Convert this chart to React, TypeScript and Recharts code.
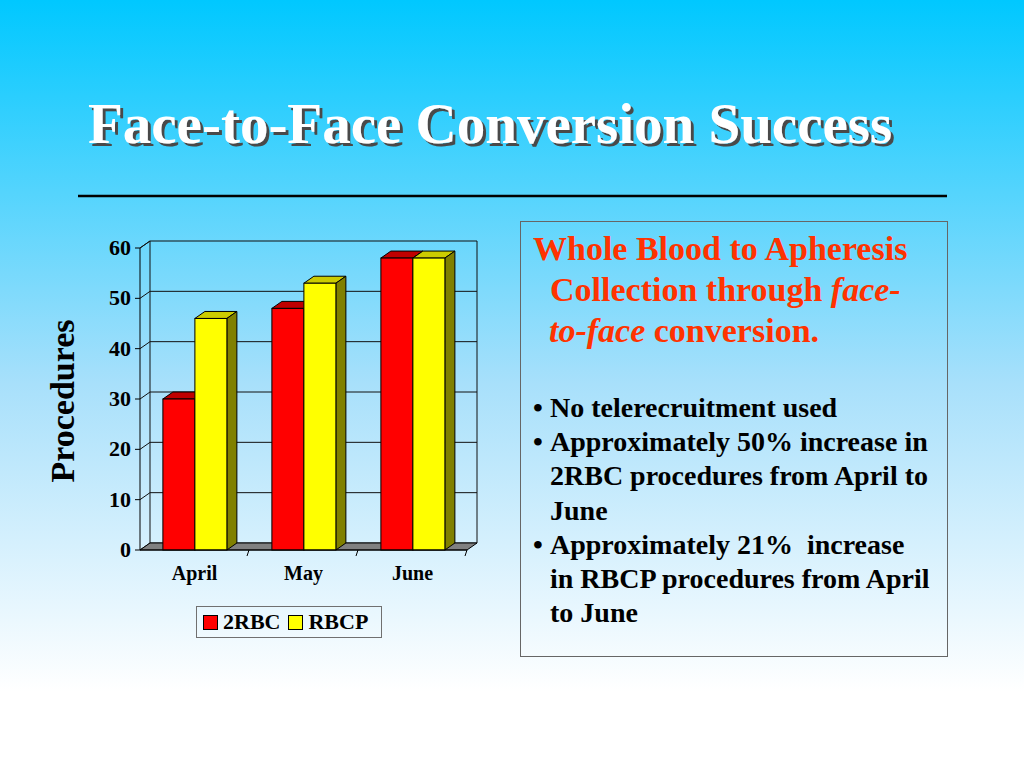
import React from 'react';
import { BarChart, Bar, XAxis, YAxis, CartesianGrid, ReferenceArea } from 'recharts';

const categories = ['April', 'May', 'June'];
const rbc2Values = [30, 48, 58];
const rbcpValues = [46, 53, 58];
const yTicks = [0, 10, 20, 30, 40, 50, 60];
const seriesNames = ['2RBC', 'RBCP'];
const seriesKeys = ['rbc2', 'rbcp'];
const seriesFront = ['#FF0000', '#FFFF00'];
const seriesTop = ['#C00000', '#CCCC00'];
const seriesSide = ['#800000', '#808000'];

const data = categories.map((c, i) => ({ month: c, rbc2: rbc2Values[i], rbcp: rbcpValues[i] }));

const FONT = "'Liberation Serif', 'Times New Roman', serif";
const DX = 10;
const DY = 7;

const make3D = (front: string, top: string, side: string) => (props: any) => {
  const { x, y, width, height } = props;
  if (!height || height <= 0) return <g />;
  return (
    <g>
      <polygon
        points={`${x},${y} ${x + DX},${y - DY} ${x + width + DX},${y - DY} ${x + width},${y}`}
        fill={top}
        stroke="#000"
        strokeWidth={1}
      />
      <polygon
        points={`${x + width},${y} ${x + width + DX},${y - DY} ${x + width + DX},${y + height - DY} ${x + width},${y + height}`}
        fill={side}
        stroke="#000"
        strokeWidth={1}
      />
      <rect x={x} y={y} width={width} height={height} fill={front} stroke="#000" strokeWidth={1} />
    </g>
  );
};

const gridLine = (props: any) => {
  const { x1, y1, x2, y2 } = props;
  return (
    <polyline
      key={`gl-${y1}`}
      points={`${x1},${y1} ${x1 + DX},${y1 - DY} ${x2 + DX},${y2 - DY}`}
      fill="none"
      stroke="#111"
      strokeWidth={1}
    />
  );
};

const wallShape = (props: any) => {
  const { x, y, width, height } = props;
  const band = width / categories.length;
  const bottom = y + height;
  return (
    <g>
      <polygon
        points={`${x},${bottom} ${x + DX},${bottom - DY} ${x + width + DX},${bottom - DY} ${x + width},${bottom}`}
        fill="#808080"
        stroke="#000"
        strokeWidth={1}
      />
      <line x1={x + DX} y1={y - DY} x2={x + DX} y2={bottom - DY} stroke="#111" strokeWidth={1} />
      <line x1={x + width + DX} y1={y - DY} x2={x + width + DX} y2={bottom - DY} stroke="#111" strokeWidth={1} />
      <line x1={x} y1={y} x2={x + DX} y2={y - DY} stroke="#111" strokeWidth={1} />
      {categories.map((c, i) => (
        <line
          key={c}
          x1={x + band * (i + 1)}
          y1={bottom}
          x2={x + band * (i + 1) - 2}
          y2={bottom + 6}
          stroke="#000"
          strokeWidth={1}
        />
      ))}
    </g>
  );
};

const YTick = (props: any) => {
  const { x, y, payload } = props;
  return (
    <text x={x} y={y} dy={7} textAnchor="end" fontFamily={FONT} fontWeight="bold" fontSize={22} fill="#000">
      {payload.value}
    </text>
  );
};

const XTick = (props: any) => {
  const { x, y, payload } = props;
  return (
    <text x={x} y={y} dy={22} textAnchor="middle" fontFamily={FONT} fontWeight="bold" fontSize={20} fill="#000">
      {payload.value}
    </text>
  );
};

const YLabel = (props: any) => {
  const vb = props.viewBox || { x: 100, y: 248, width: 40, height: 302 };
  const cx = vb.x - 26;
  const cy = vb.y + vb.height / 2 + 2;
  return (
    <text
      x={cx}
      y={cy}
      transform={`rotate(-90, ${cx}, ${cy})`}
      textAnchor="middle"
      fontFamily={FONT}
      fontWeight="bold"
      fontSize={34}
      fill="#000"
    >
      Procedures
    </text>
  );
};

const bulletLines: { bullet: boolean; text: string }[] = [
  { bullet: true, text: 'No telerecruitment used' },
  { bullet: true, text: 'Approximately 50% increase in' },
  { bullet: false, text: '2RBC procedures from April to' },
  { bullet: false, text: 'June' },
  { bullet: true, text: 'Approximately 21%  increase' },
  { bullet: false, text: 'in RBCP procedures from April' },
  { bullet: false, text: 'to June' },
];

export default function App() {
  return (
    <div
      style={{
        position: 'fixed',
        left: 0,
        top: 0,
        width: 1024,
        height: 768,
        overflow: 'hidden',
        background: 'linear-gradient(to bottom, #00C8FF 0%, #A8E0FB 50%, #FFFFFF 90%, #FFFFFF 100%)',
        fontFamily: FONT,
      }}
    >
      <div style={{ position: 'absolute', left: 0, top: 0 }}>
        <BarChart
          width={500}
          height={700}
          data={data}
          margin={{ top: 248, right: 33, bottom: 110, left: 100 }}
          barCategoryGap="21%"
          barGap={0}
        >
          <CartesianGrid vertical={false} horizontal={gridLine} />
          <ReferenceArea y1={0} y2={60} shape={wallShape} ifOverflow="visible" />
          <XAxis
            dataKey="month"
            axisLine={{ stroke: '#000', strokeWidth: 1 }}
            tickLine={false}
            tick={<XTick />}
            height={40}
            interval={0}
          />
          <YAxis
            domain={[0, 60]}
            ticks={yTicks}
            width={40}
            axisLine={{ stroke: '#000', strokeWidth: 1 }}
            tickLine={{ stroke: '#000', strokeWidth: 1 }}
            tickSize={5}
            tickMargin={4}
            tick={<YTick />}
            label={<YLabel />}
            interval={0}
          />
          {seriesKeys.map((k, i) => (
            <Bar
              key={k}
              dataKey={k}
              name={seriesNames[i]}
              fill={seriesFront[i]}
              shape={make3D(seriesFront[i], seriesTop[i], seriesSide[i])}
              isAnimationActive={false}
            />
          ))}
        </BarChart>
      </div>

      <div
        style={{
          position: 'absolute',
          left: 196,
          top: 606,
          width: 186,
          height: 32,
          border: '1px solid #707070',
          display: 'flex',
          alignItems: 'center',
          paddingLeft: 6,
          boxSizing: 'border-box',
        }}
      >
        {seriesNames.map((n, i) => (
          <div key={n} style={{ display: 'flex', alignItems: 'center', marginRight: 8 }}>
            <div
              style={{
                width: 13,
                height: 13,
                background: seriesFront[i],
                border: '1px solid #000',
                marginRight: 5,
              }}
            />
            <span style={{ fontFamily: FONT, fontWeight: 'bold', fontSize: 22, lineHeight: '24px', color: '#000' }}>{n}</span>
          </div>
        ))}
      </div>

      <svg width={1024} height={768} style={{ position: 'absolute', left: 0, top: 0, pointerEvents: 'none' }}>
        <defs>
          <filter id="titleShadow" x="-5%" y="-20%" width="110%" height="150%">
            <feDropShadow dx={3} dy={3} stdDeviation={0.4} floodColor="#4a4a4a" floodOpacity={1} />
          </filter>
        </defs>
        <text x={88} y={143} fontFamily={FONT} fontWeight="bold" fontSize={57} fill="#FFFFFF" filter="url(#titleShadow)">
          Face-to-Face Conversion Success
        </text>
        <line x1={78} y1={196} x2={947} y2={196} stroke="#000" strokeWidth={2.5} />
        <rect x={520.5} y={221.5} width={427} height={435} fill="none" stroke="#666" strokeWidth={1} />
        <g fontFamily={FONT} fontWeight="bold" fontSize={34} fill="#FF3300">
          <text x={533} y={260}>Whole Blood to Apheresis</text>
          <text x={550} y={301}>
            Collection through <tspan fontStyle="italic">face-</tspan>
          </text>
          <text x={549} y={342}>
            <tspan fontStyle="italic">to-face</tspan> conversion.
          </text>
        </g>
        <g fontFamily={FONT} fontWeight="bold" fontSize={28} fill="#000">
          {bulletLines.map((l, i) => (
            <g key={i}>
              {l.bullet && (
                <text x={533} y={417 + i * 34.2}>
                  •
                </text>
              )}
              <text x={550} y={417 + i * 34.2} style={{ whiteSpace: 'pre' }}>
                {l.text}
              </text>
            </g>
          ))}
        </g>
      </svg>
    </div>
  );
}
